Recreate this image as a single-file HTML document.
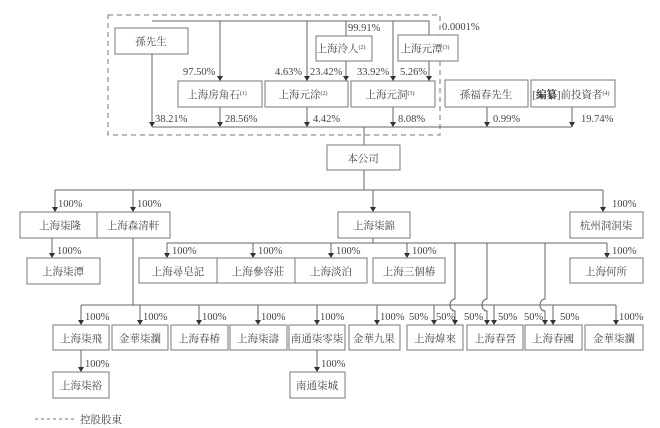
<!DOCTYPE html>
<html><head><meta charset="utf-8"><style>
html,body{margin:0;padding:0;background:#fff;}
svg{display:block;}
text{font-family:"Liberation Serif","Noto Serif CJK SC","Noto Sans CJK TC",serif;font-size:10.5px;fill:#444;}
.b{fill:#fff;stroke:#777;stroke-width:1;}
.l{fill:none;stroke:#666;stroke-width:1;}
.c{text-anchor:middle;}
</style></head><body>
<svg width="660" height="428" viewBox="0 0 660 428" xmlns="http://www.w3.org/2000/svg">
<defs><marker id="a" markerWidth="6" markerHeight="6" refX="5" refY="3" orient="auto" markerUnits="userSpaceOnUse"><path d="M0,0 L5,3 L0,6 z" fill="#333"/></marker></defs>
<rect x="108" y="15" width="332" height="120" fill="none" stroke="#777" stroke-dasharray="5,4"/>
<path class="l" d="M152,21 H429 V35"/>
<path class="l" d="M152,54 V127" marker-end="url(#a)"/>
<path class="l" d="M220,21 V81" marker-end="url(#a)"/>
<path class="l" d="M307,21 V81" marker-end="url(#a)"/>
<path class="l" d="M393,21 V81" marker-end="url(#a)"/>
<path class="l" d="M346,21 V36"/>
<path class="l" d="M346,61 V81" marker-end="url(#a)"/>
<path class="l" d="M429,61 V81" marker-end="url(#a)"/>
<path class="l" d="M152,127 H572"/>
<path class="l" d="M220,107 V127" marker-end="url(#a)"/>
<path class="l" d="M307,107 V127" marker-end="url(#a)"/>
<path class="l" d="M393,107 V127" marker-end="url(#a)"/>
<path class="l" d="M487,107 V127" marker-end="url(#a)"/>
<path class="l" d="M572,107 V127" marker-end="url(#a)"/>
<path class="l" d="M364,127 V145"/>
<rect class="b" x="115" y="28" width="73" height="26"/><text class="c" x="151" y="45">孫先生</text>
<rect class="b" x="316" y="36" width="56" height="25"/><text class="c" x="341" y="52">上海泠人<tspan font-size="6" dy="-3">(2)</tspan></text>
<rect class="b" x="398" y="35" width="60" height="26"/><text class="c" x="425" y="52">上海元潭<tspan font-size="6" dy="-3">(3)</tspan></text>
<rect class="b" x="178" y="81" width="84" height="26"/><text class="c" x="217" y="98">上海房角石<tspan font-size="6" dy="-3">(1)</tspan></text>
<rect class="b" x="265" y="81" width="83" height="26"/><text class="c" x="303" y="98">上海元涂<tspan font-size="6" dy="-3">(2)</tspan></text>
<rect class="b" x="351" y="81" width="84" height="26"/><text class="c" x="390" y="98">上海元洞<tspan font-size="6" dy="-3">(3)</tspan></text>
<rect class="b" x="445" y="80" width="83" height="27"/><text class="c" x="486" y="98">孫福春先生</text>
<rect class="b" x="531" y="80" width="84" height="27"/><text class="c" x="571" y="98">[<tspan font-weight="bold" fill="#222">編纂</tspan>]前投資者<tspan font-size="6" dy="-3">(4)</tspan></text>
<text x="348" y="31">99.91%</text>
<text x="442" y="30">0.0001%</text>
<text x="183" y="75">97.50%</text>
<text x="275" y="75">4.63%</text>
<text x="310" y="75">23.42%</text>
<text x="357" y="75">33.92%</text>
<text x="400" y="75">5.26%</text>
<text x="155" y="122">38.21%</text>
<text x="225" y="122">28.56%</text>
<text x="313" y="122">4.42%</text>
<text x="398" y="122">8.08%</text>
<text x="493" y="122">0.99%</text>
<text x="581" y="122">19.74%</text>
<rect class="b" x="327" y="145" width="73" height="25"/><text class="c" x="363" y="162">本公司</text>
<path class="l" d="M364,170 V190 M55,190 H603"/>
<path class="l" d="M55,190 V212" marker-end="url(#a)"/>
<path class="l" d="M133,190 V212" marker-end="url(#a)"/>
<path class="l" d="M373,190 V212" marker-end="url(#a)"/>
<path class="l" d="M603,190 V212" marker-end="url(#a)"/>
<text x="58" y="207">100%</text><text x="137" y="207">100%</text><text x="612" y="207">100%</text>
<rect class="b" x="20" y="212" width="80" height="26"/><text class="c" x="60" y="229">上海柒隆</text>
<rect class="b" x="97" y="212" width="73" height="26"/><text class="c" x="133" y="229">上海森清軒</text>
<rect class="b" x="338" y="212" width="72" height="26"/><text class="c" x="374" y="229">上海柒錦</text>
<rect class="b" x="570" y="212" width="73" height="26"/><text class="c" x="606" y="229">杭州洞洞柒</text>
<path class="l" d="M52,238 V258" marker-end="url(#a)"/><text x="57" y="254">100%</text>
<rect class="b" x="27" y="258" width="73" height="26"/><text class="c" x="63" y="275">上海柒潭</text>
<path class="l" d="M373,238 V243 M167,243 H607"/>
<path class="l" d="M167,243 V258" marker-end="url(#a)"/>
<path class="l" d="M253,243 V258" marker-end="url(#a)"/>
<path class="l" d="M331,243 V258" marker-end="url(#a)"/>
<path class="l" d="M407,243 V258" marker-end="url(#a)"/>
<path class="l" d="M607,243 V258" marker-end="url(#a)"/>
<text x="172" y="254">100%</text><text x="258" y="254">100%</text><text x="336" y="254">100%</text><text x="412" y="254">100%</text><text x="612" y="254">100%</text>
<rect class="b" x="139" y="258" width="79" height="25"/><text class="c" x="178" y="275">上海尋皂記</text>
<rect class="b" x="217" y="258" width="83" height="25"/><text class="c" x="258" y="275">上海參容莊</text>
<rect class="b" x="295" y="258" width="72" height="25"/><text class="c" x="331" y="275">上海淡泊</text>
<rect class="b" x="373" y="258" width="72" height="25"/><text class="c" x="409" y="275">上海三個椿</text>
<rect class="b" x="570" y="258" width="73" height="25"/><text class="c" x="606" y="275">上海何所</text>
<path class="l" d="M133,238 V305 M81,305 H616"/>
<path class="l" d="M455,243 V299 a5,6 0 0 0 0,12 V325" marker-end="url(#a)"/>
<path class="l" d="M487,243 V299 a5,6 0 0 0 0,12 V325" marker-end="url(#a)"/>
<path class="l" d="M545,243 V299 a5,6 0 0 0 0,12 V325" marker-end="url(#a)"/>
<path class="l" d="M81,305 V325" marker-end="url(#a)"/>
<path class="l" d="M140,305 V325" marker-end="url(#a)"/>
<path class="l" d="M199,305 V325" marker-end="url(#a)"/>
<path class="l" d="M258,305 V325" marker-end="url(#a)"/>
<path class="l" d="M317,305 V325" marker-end="url(#a)"/>
<path class="l" d="M377,305 V325" marker-end="url(#a)"/>
<path class="l" d="M434,305 V325" marker-end="url(#a)"/>
<path class="l" d="M494,305 V325" marker-end="url(#a)"/>
<path class="l" d="M553,305 V325" marker-end="url(#a)"/>
<path class="l" d="M616,305 V325" marker-end="url(#a)"/>
<text x="85" y="320">100%</text><text x="143" y="320">100%</text><text x="202" y="320">100%</text><text x="261" y="320">100%</text><text x="320" y="320">100%</text><text x="380" y="320">100%</text>
<text x="409" y="320">50%</text><text x="436" y="320">50%</text>
<text x="464" y="320">50%</text><text x="498" y="320">50%</text>
<text x="524" y="320">50%</text><text x="560" y="320">50%</text>
<text x="619" y="320">100%</text>
<rect class="b" x="53" y="325" width="56" height="25"/><text class="c" x="81" y="342">上海柒飛</text>
<rect class="b" x="112" y="325" width="56" height="25"/><text class="c" x="140" y="342">金華柒瀾</text>
<rect class="b" x="171" y="325" width="57" height="25"/><text class="c" x="199" y="342">上海春椿</text>
<rect class="b" x="230" y="325" width="57" height="25"/><text class="c" x="258" y="342">上海柒濤</text>
<rect class="b" x="289" y="325" width="56" height="25"/><text class="c" x="317" y="342">南通柒零柒</text>
<rect class="b" x="349" y="325" width="51" height="25"/><text class="c" x="374" y="342">金華九果</text>
<rect class="b" x="407" y="325" width="56" height="25"/><text class="c" x="435" y="342">上海煒來</text>
<rect class="b" x="467" y="325" width="56" height="25"/><text class="c" x="495" y="342">上海春晉</text>
<rect class="b" x="525" y="325" width="57" height="25"/><text class="c" x="553" y="342">上海春國</text>
<rect class="b" x="585" y="325" width="58" height="25"/><text class="c" x="614" y="342">金華柒瀾</text>
<path class="l" d="M81,350 V372" marker-end="url(#a)"/><text x="85" y="367">100%</text>
<path class="l" d="M317,350 V372" marker-end="url(#a)"/><text x="321" y="367">100%</text>
<rect class="b" x="53" y="372" width="56" height="26"/><text class="c" x="81" y="389">上海柒裕</text>
<rect class="b" x="290" y="372" width="55" height="26"/><text class="c" x="317" y="389">南通柒城</text>
<line x1="35" y1="419" x2="75" y2="419" stroke="#777" stroke-dasharray="3,3"/>
<text x="80" y="423">控股股東</text>
</svg>
</body></html>
